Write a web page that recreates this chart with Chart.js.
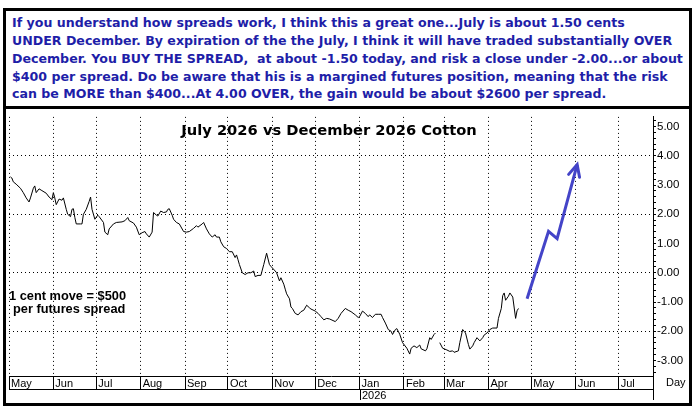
<!DOCTYPE html>
<html>
<head>
<meta charset="utf-8">
<script src="https://cdn.jsdelivr.net/npm/chart.js@4.4.1/dist/chart.umd.min.js"></script>
<style>
  html, body { margin: 0; padding: 0; background: #fff; }
  body { width: 695px; height: 416px; position: relative; overflow: hidden; }
  #frame { position: absolute; left: 3px; top: 8px; width: 689px; height: 398px; border: 3px solid #000; box-sizing: border-box; }
  #sep { position: absolute; left: 6px; top: 106px; width: 683px; height: 3px; background: #000; }
  .note { position: absolute; left: 12px; white-space: nowrap; font: bold 12.6px "DejaVu Sans", Verdana, sans-serif; color: #1e1ea8; line-height: 18px; }
  #wrap { position: absolute; left: 6px; top: 109px; width: 683px; height: 294px; }
  #title { position: absolute; left: 0; width: 658px; top: 121px; text-align: center; font: bold 14.7px "DejaVu Sans", Verdana, sans-serif; color: #000; white-space: nowrap; }
  .ann { position: absolute; font: bold 12.8px "Liberation Sans", Arial, sans-serif; color: #000; white-space: nowrap; }
  #day { position: absolute; left: 666px; top: 376px; font: 11px "Liberation Sans", Arial, sans-serif; color: #000; }
</style>
</head>
<body>
<div id="frame"></div>
<div class="note" style="top:14px">If you understand how spreads work, I think this a great one...July is about 1.50 cents</div>
<div class="note" style="top:32px">UNDER December. By expiration of the the July, I think it will have traded substantially OVER</div>
<div class="note" style="top:50px">December. You BUY THE SPREAD,&nbsp; at about -1.50 today, and risk a close under -2.00...or about</div>
<div class="note" style="top:68px">$400 per spread. Do be aware that his is a margined futures position, meaning that the risk</div>
<div class="note" style="top:85px">can be MORE than $400...At 4.00 OVER, the gain would be about $2600 per spread.</div>
<div id="sep"></div>
<div id="wrap"><canvas id="chart" width="683" height="294"></canvas></div>
<div id="title">July 2026 vs December 2026 Cotton</div>
<div class="ann" style="left:9px; top:288px">1 cent move = $500</div>
<div class="ann" style="left:13px; top:301px">per futures spread</div>
<div id="day">Day</div>
<script>
// days counted from 2025-05-01
const startDate = '2025-05-01';
const monthStarts = ['2025-05-01', '2025-06-01', '2025-07-01', '2025-08-01', '2025-09-01', '2025-10-01',
  '2025-11-01', '2025-12-01', '2026-01-01', '2026-02-01', '2026-03-01', '2026-04-01',
  '2026-05-01', '2026-06-01', '2026-07-01'];
const monthLabels = ['May', 'Jun', 'Jul', 'Aug', 'Sep', 'Oct', 'Nov', 'Dec', 'Jan', 'Feb', 'Mar', 'Apr', 'May', 'Jun', 'Jul'];
const yearLabel = '2026';
const yTicks = [-3, -2, -1, 0, 1, 2, 3, 4, 5];

// July 2026 minus December 2026 cotton, cents
const days = [1, 2, 3, 5, 8, 10, 12, 14, 15, 17, 18, 19, 21, 23, 26, 28, 30, 31, 32, 33,
  35, 37, 38, 40, 41, 43, 44, 45, 46, 47, 50, 51, 52, 54, 56, 57, 58, 60, 62, 63,
  66, 67, 69, 70, 73, 75, 79, 81, 83, 84, 87, 89, 91, 93, 95, 96, 98, 100, 101, 103,
  104, 106, 108, 110, 111, 112, 114, 115, 117, 119, 122, 124, 126, 129, 131, 132, 135, 136, 138, 140,
  142, 144, 145, 147, 148, 150, 152, 154, 156, 158, 159, 160, 161, 163, 165, 167, 169, 171, 172, 174,
  176, 178, 180, 182, 183, 186, 187, 189, 190, 192, 193, 194, 196, 197, 198, 200, 202, 204, 206, 208,
  210, 211, 214, 216, 218, 220, 222, 224, 228, 230, 232, 235, 237, 239, 242, 244, 245, 247, 249, 251,
  252, 254, 256, 258, 260, 261, 263, 265, 267, 268, 270, 271, 273, 275, 278, 280, 281, 283, 285, 287,
  288, 291, 292, 294, 295, 297, 298, 300, 301, 303, 306, 308, 310, 311, 314, 315, 317, 318, 319, 321,
  322, 324, 325, 327, 329, 331, 332, 334, 336, 338, 341, 342, 344, 345, 346, 347, 349, 350, 352, 354,
  355, 356];
const spread = [3.28, 3.24, 3.11, 3.03, 2.89, 2.74, 2.56, 2.42, 2.56, 2.89, 2.97, 2.74, 2.87, 2.81, 2.72, 2.59, 2.50, 2.74, 2.56, 2.33,
  2.52, 2.48, 2.56, 2.17, 2.00, 1.92, 2.17, 2.19, 1.89, 1.67, 1.67, 1.67, 2.00, 2.17, 2.44, 2.59, 2.17, 1.83, 1.97, 1.92,
  1.72, 1.39, 1.30, 1.50, 1.67, 1.72, 1.74, 1.78, 1.89, 1.78, 1.70, 1.56, 1.30, 1.37, 1.41, 1.33, 1.22, 1.39, 2.06, 1.97,
  1.94, 2.11, 2.06, 2.08, 2.17, 2.19, 1.97, 1.83, 1.72, 1.67, 1.41, 1.39, 1.41, 1.52, 1.61, 1.56, 1.67, 1.72, 1.50, 1.33,
  1.22, 1.30, 1.22, 1.22, 1.06, 0.89, 0.83, 0.72, 0.72, 0.52, 0.61, 0.45, 0.28, 0.00, -0.06, 0.00, 0.00, 0.06, -0.13, -0.09,
  -0.09, 0.28, 0.67, 0.28, 0.22, 0.06, 0.00, -0.28, -0.17, -0.39, -0.56, -0.72, -0.89, -1.17, -1.22, -1.39, -1.44, -1.33, -1.28, -1.11,
  -1.20, -1.24, -1.31, -1.39, -1.50, -1.61, -1.56, -1.58, -1.67, -1.56, -1.39, -1.22, -1.28, -1.33, -1.44, -1.53, -1.50, -1.31, -1.39, -1.50,
  -1.44, -1.53, -1.42, -1.42, -1.42, -1.53, -1.72, -1.94, -2.00, -2.11, -1.94, -1.91, -2.10, -2.39, -2.58, -2.78, -2.58, -2.50, -2.56, -2.47,
  -2.60, -2.67, -2.60, -2.22, -2.28, -2.11, -2.06, null, -2.39, -2.58, -2.64, -2.69, -2.67, -2.72, -2.67, -2.39, -1.94, -2.00, -2.06, -2.45,
  -2.61, -2.50, -2.39, -2.22, -2.33, -2.22, -2.13, -2.06, -1.94, -1.89, -1.89, -1.56, -1.22, -0.78, -0.69, -0.94, -0.80, -0.69, -0.83, -1.56,
  -1.30, -1.22];

// projected path (blue arrow)
const arrowDays = [362, 377, 383, 397];
const arrowValues = [-0.89, 1.42, 1.17, 3.70];

const dayOf = s => (Date.parse(s) - Date.parse(startDate)) / 86400000;
const isWhole = v => Math.abs(v - Math.round(v)) < 1e-6;

const extras = {
  id: 'extras',
  afterDraw(chart) {
    const ctx = chart.ctx;
    const xs = chart.scales.x;
    const area = chart.chartArea;
    const rowBottom = xs.top + 13;
    ctx.save();
    ctx.strokeStyle = '#000';
    ctx.lineWidth = 1;
    ctx.beginPath();
    // line under the month row
    ctx.moveTo(xs.left, rowBottom + 0.5);
    ctx.lineTo(xs.right, rowBottom + 0.5);
    // year marker under January
    const jan = Math.round(xs.getPixelForValue(dayOf('2026-01-01'))) + 0.5;
    ctx.moveTo(jan, rowBottom);
    ctx.lineTo(jan, rowBottom + 11);
    // value axis runs down past the dates
    const ax = Math.round(area.right) + 0.5;
    ctx.moveTo(ax, area.bottom);
    ctx.lineTo(ax, chart.height - 3);
    ctx.stroke();
    ctx.fillStyle = '#000';
    ctx.font = '11px "Liberation Sans", Arial, sans-serif';
    ctx.textBaseline = 'top';
    ctx.fillText(yearLabel, jan + 1.5, rowBottom + 1);

    // arrow head on the projected path
    const pts = chart.getDatasetMeta(1).data;
    const a = pts[pts.length - 2], b = pts[pts.length - 1];
    const ang = Math.atan2(b.y - a.y, b.x - a.x);
    const len = 13, spread = 0.45;
    ctx.strokeStyle = '#4444c8';
    ctx.lineWidth = 3;
    ctx.lineCap = 'round';
    ctx.beginPath();
    ctx.moveTo(b.x - len * Math.cos(ang - spread), b.y - len * Math.sin(ang - spread));
    ctx.lineTo(b.x, b.y);
    ctx.lineTo(b.x - len * Math.cos(ang + spread), b.y - len * Math.sin(ang + spread));
    ctx.stroke();
    ctx.restore();
  }
};

new Chart(document.getElementById('chart'), {
  type: 'line',
  data: {
    datasets: [{
      data: days.map((d, i) => ({ x: d, y: spread[i] })),
      borderColor: '#000',
      borderWidth: 1,
      pointRadius: 0,
      tension: 0,
      spanGaps: false
    }, {
      data: arrowDays.map((d, i) => ({ x: d, y: arrowValues[i] })),
      borderColor: '#4444c8',
      borderWidth: 3,
      pointRadius: 0,
      tension: 0
    }]
  },
  options: {
    responsive: false,
    animation: false,
    events: [],
    layout: { padding: { left: 3, top: 1, right: 0, bottom: 0 } },
    plugins: { legend: { display: false }, tooltip: { enabled: false } },
    scales: {
      x: {
        type: 'linear',
        min: 0,
        max: 450,
        afterFit: s => { s.height = 27; },
        afterBuildTicks: s => { s.ticks = monthStarts.map(m => ({ value: dayOf(m) })); },
        ticks: {
          autoSkip: false,
          maxRotation: 0,
          align: 'start',
          labelOffset: 2,
          padding: -12,
          color: '#000',
          font: { family: '"Liberation Sans", Arial, sans-serif', size: 11 },
          callback: (v, i) => monthLabels[i]
        },
        grid: { color: '#000', lineWidth: 1, tickLength: 13, tickColor: '#000', tickBorderDash: [] },
        border: { color: '#000', width: 1, dash: [1, 3] }
      },
      y: {
        position: 'right',
        min: -3.53,
        max: 5.33,
        afterFit: s => { s.width = 36; },
        ticks: {
          stepSize: 0.2,
          includeBounds: false,
          autoSkip: false,
          padding: 1,
          color: '#000',
          font: { family: '"Liberation Sans", Arial, sans-serif', size: 11.5 },
          callback: v => (isWhole(v) && yTicks.includes(Math.round(v))) ? Math.round(v).toFixed(2) : ''
        },
        grid: {
          lineWidth: 1,
          tickLength: 3,
          tickColor: '#000',
          tickBorderDash: [],
          color: c => (c.tick && isWhole(c.tick.value) && Math.round(c.tick.value) % 2 === 0) ? '#000' : 'rgba(0,0,0,0)'
        },
        border: { color: '#000', width: 1, dash: [1, 3] }
      }
    }
  },
  plugins: [extras]
});
</script>
</body>
</html>
